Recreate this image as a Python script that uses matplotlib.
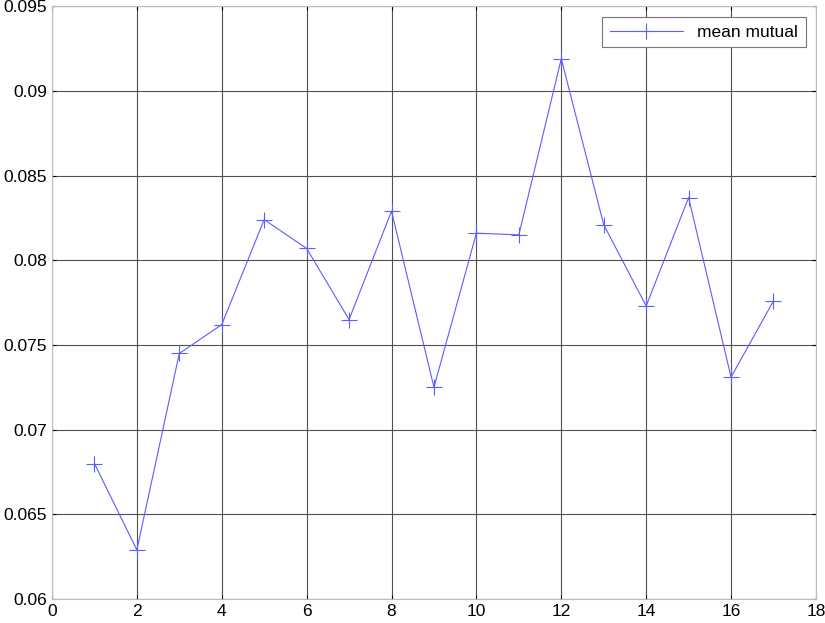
import matplotlib
matplotlib.use("Agg")
import matplotlib.pyplot as plt

plt.rcParams["font.family"] = ["Liberation Sans", "DejaVu Sans"]

x_vals = list(range(1, 18))
mean_mutual = [0.0680, 0.0629, 0.0745, 0.0762, 0.0824, 0.0807, 0.0765, 0.0829,
               0.0725, 0.0816, 0.0815, 0.0919, 0.0821, 0.0773, 0.0837, 0.0731, 0.0776]
x_ticks = list(range(0, 19, 2))
y_ticks = [0.06, 0.065, 0.07, 0.075, 0.08, 0.085, 0.09, 0.095]

fig = plt.figure(figsize=(8.25, 6.23), dpi=100)
ax = fig.add_axes([0.063, 0.0385, 0.926, 0.9515])

ax.plot(x_vals, mean_mutual, color="#5c5cff", lw=0.8, marker="+",
        markersize=11, markeredgewidth=0.8, label="mean mutual")

ax.set_xlim(0, 18)
ax.set_ylim(0.06, 0.095)
ax.set_xticks(x_ticks)
ax.set_yticks(y_ticks)
ax.set_yticklabels([f"{v:g}" for v in y_ticks])
ax.tick_params(direction="in", length=3, labelsize=12.5, colors="black",
               top=True, right=True)
ax.grid(True, color="#505050", lw=0.8)
for s in ax.spines.values():
    s.set_color("#bbbbbb")

leg = ax.legend(loc="upper right", fontsize=12.5, fancybox=False, framealpha=1,
                edgecolor="#777777", borderaxespad=0.6, handlelength=4.2,
                borderpad=0.45)
leg.get_frame().set_linewidth(0.8)

fig.savefig("out.png", dpi=100)
